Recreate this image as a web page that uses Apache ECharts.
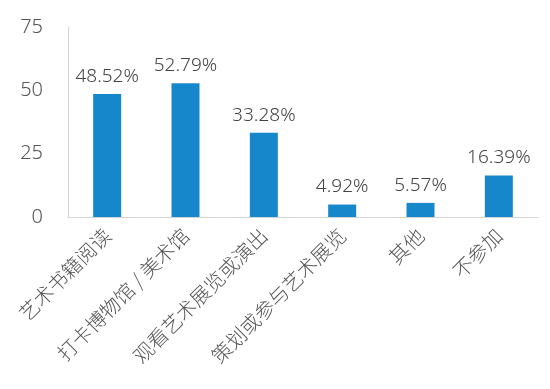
<!DOCTYPE html>
<html><head><meta charset="utf-8">
<script src="https://cdn.jsdelivr.net/npm/echarts@6/dist/echarts.min.js"></script>
<style>html,body{margin:0;padding:0;background:#fff}#c{width:550px;height:389px}</style>
</head><body><div id="c"></div>
<script>
const categories = ['艺术书籍阅读','打卡博物馆 / 美术馆','观看艺术展览或演出','策划或参与艺术展览','其他','不参加'];
const values = [48.52, 52.79, 33.28, 4.92, 5.57, 16.39];
const yTicks = [0, 25, 50, 75];

const chart = echarts.init(document.getElementById('c'));
chart.setOption({
  backgroundColor: '#ffffff',
  animation: false,
  grid: {left: 68, right: 12, top: 27, bottom: 172, containLabel: false},
  xAxis: {
    type: 'category', data: categories,
    axisLine: {lineStyle: {color: '#d4d4d4', width: 1}},
    axisTick: {show: false},
    axisLabel: {rotate: 45, interval: 0, fontSize: 20, color: '#555', margin: 15, fontWeight: 300,
      fontFamily: '"Noto Sans CJK SC", sans-serif'}
  },
  yAxis: {
    type: 'value', min: yTicks[0], max: yTicks[yTicks.length-1], interval: 25,
    axisLine: {show: true, lineStyle: {color: '#d4d4d4', width: 1}},
    axisTick: {show: false},
    splitLine: {show: false},
    axisLabel: {fontSize: 20, color: '#555', margin: 25, fontWeight: 300, fontFamily: '"Noto Sans", sans-serif'}
  },
  series: [{
    type: 'bar', data: values, barWidth: 28,
    itemStyle: {color: '#1787cb'},
    label: {show: true, position: 'top', distance: 8, fontSize: 19, color: '#444', fontWeight: 300,
      fontFamily: '"Noto Sans", sans-serif',
      formatter: p => p.value.toFixed(2) + '%'}
  }]
});
</script></body></html>
